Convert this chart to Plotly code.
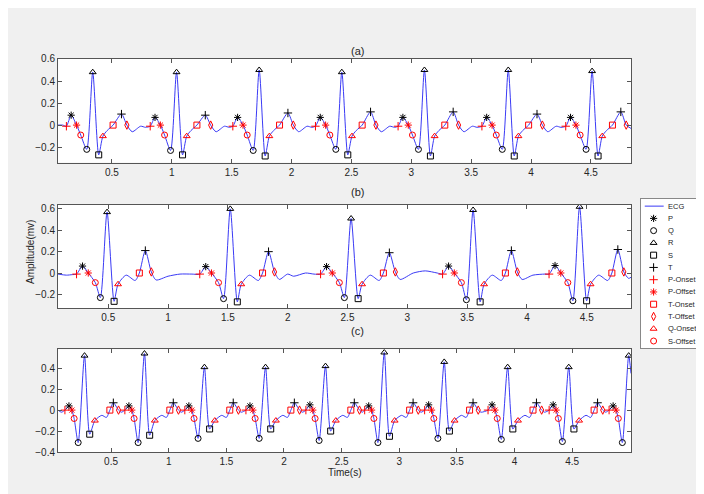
import plotly.graph_objects as go

# ---- panel (a) ----
a_pon_t = [0.12, 0.82, 1.51, 2.20, 2.89, 3.59, 4.29]
a_pon_y = [-0.01] * 7
a_p_t = [0.16, 0.86, 1.55, 2.24, 2.93, 3.63, 4.33]
a_p_y = [0.09, 0.07, 0.07, 0.07, 0.07, 0.07, 0.07]
a_poff_t = [0.205, 0.905, 1.595, 2.285, 2.975, 3.675, 4.375]
a_poff_y = [0.0] * 7
a_soff_t = [0.24, 0.94, 1.63, 2.32, 3.01, 3.71, 4.41]
a_soff_y = [-0.09] * 7
a_q_t = [0.29, 0.99, 1.68, 2.37, 3.06, 3.76, 4.46]
a_q_y = [-0.22, -0.23, -0.23, -0.22, -0.22, -0.22, -0.22]
a_r_t = [0.34, 1.04, 1.73, 2.42, 3.11, 3.81, 4.51]
a_r_y = [0.48, 0.48, 0.50, 0.48, 0.50, 0.50, 0.49]
a_s_t = [0.39, 1.09, 1.78, 2.47, 3.16, 3.86, 4.56]
a_s_y = [-0.27, -0.27, -0.28, -0.27, -0.28, -0.28, -0.28]
a_qon_t = [0.425, 1.125, 1.815, 2.505, 3.195, 3.895, 4.595]
a_qon_y = [-0.10] * 7
a_ton_t = [0.51, 1.21, 1.90, 2.59, 3.28, 3.98, 4.68]
a_ton_y = [0.0] * 7
a_t_t = [0.58, 1.28, 1.97, 2.66, 3.35, 4.05, 4.75]
a_t_y = [0.10, 0.09, 0.11, 0.12, 0.12, 0.10, 0.12]
a_toff_t = [0.625, 1.325, 2.015, 2.705, 3.395, 4.095, 4.795]
a_toff_y = [0.0] * 7
a_wave_t = [0.05, 0.09, 0.46, 0.67, 0.74, 0.78, 1.16, 1.37, 1.44, 1.48, 1.85, 2.06, 2.13, 2.17,
            2.54, 2.75, 2.82, 2.86, 3.23, 3.44, 3.51, 3.55, 3.93, 4.14, 4.21, 4.25, 4.63, 4.835]
a_wave_y = [0.0, 0.0, -0.05, -0.06, -0.01, -0.02, -0.05, -0.06, -0.01, -0.02, -0.05, -0.06, -0.01, -0.02,
            -0.05, -0.06, -0.01, -0.02, -0.05, -0.06, -0.01, -0.02, -0.05, -0.06, -0.01, -0.02, -0.05, -0.03]

# ---- panel (b) ----
b_pon_t = [0.235, 1.265, 2.275, 3.295, 4.185]
b_pon_y = [-0.01] * 5
b_p_t = [0.285, 1.315, 2.325, 3.345, 4.235]
b_p_y = [0.065, 0.06, 0.06, 0.065, 0.07]
b_poff_t = [0.333, 1.363, 2.373, 3.393, 4.283]
b_poff_y = [0.0] * 5
b_soff_t = [0.392, 1.422, 2.432, 3.452, 4.342]
b_soff_y = [-0.09] * 5
b_q_t = [0.434, 1.464, 2.474, 3.494, 4.384]
b_q_y = [-0.23, -0.24, -0.23, -0.25, -0.26]
b_r_t = [0.49, 1.52, 2.53, 3.55, 4.44]
b_r_y = [0.57, 0.60, 0.51, 0.59, 0.62]
b_s_t = [0.549, 1.579, 2.589, 3.609, 4.499]
b_s_y = [-0.265, -0.27, -0.24, -0.27, -0.26]
b_qon_t = [0.582, 1.612, 2.622, 3.642, 4.532]
b_qon_y = [-0.105] * 5
b_ton_t = [0.76, 1.79, 2.80, 3.82, 4.71]
b_ton_y = [0.0] * 5
b_t_t = [0.81, 1.84, 2.85, 3.87, 4.76]
b_t_y = [0.21, 0.20, 0.19, 0.21, 0.22]
b_toff_t = [0.86, 1.89, 2.90, 3.92, 4.81]
b_toff_y = [0.01] * 5
b_wave_t = [0.08, 0.15, 0.20, 0.65, 0.725, 0.90, 1.0, 1.1, 1.2, 1.68, 1.755, 1.93, 2.0, 2.05, 2.15, 2.22,
            2.69, 2.765, 2.94, 3.05, 3.15, 3.25, 3.71, 3.785, 3.96, 4.05, 4.15, 4.60, 4.675, 4.85, 4.87]
b_wave_y = [-0.01, -0.02, -0.015, -0.02, -0.07, -0.065, -0.03, -0.01, -0.01, -0.02, -0.07, -0.06, -0.01, -0.03, 0.0, -0.01,
            -0.02, -0.07, -0.06, 0.0, 0.02, 0.0, -0.02, -0.07, -0.06, -0.02, -0.01, -0.02, -0.07, -0.05, -0.04]

# ---- panel (c) ----
c_pon_t = [0.10, 0.62, 1.14, 1.67, 2.19, 2.70, 3.22, 3.77, 4.30, 4.82]
c_pon_y = [0.0] * 10
c_p_t = [0.135, 0.655, 1.175, 1.705, 2.225, 2.735, 3.255, 3.805, 4.335, 4.855]
c_p_y = [0.04, 0.04, 0.04, 0.04, 0.05, 0.04, 0.05, 0.05, 0.05, 0.04]
c_poff_t = [0.16, 0.68, 1.20, 1.73, 2.25, 2.76, 3.28, 3.83, 4.36, 4.88]
c_poff_y = [0.0] * 10
c_soff_t = [0.18, 0.70, 1.22, 1.75, 2.27, 2.78, 3.30, 3.85, 4.38, 4.90]
c_soff_y = [-0.08] * 10
c_q_t = [0.215, 0.735, 1.255, 1.785, 2.305, 2.815, 3.335, 3.885, 4.415, 4.935]
c_q_y = [-0.31, -0.31, -0.27, -0.27, -0.29, -0.31, -0.27, -0.28, -0.30, -0.31]
c_r_t = [0.27, 0.79, 1.31, 1.84, 2.36, 2.87, 3.39, 3.94, 4.47, 4.99]
c_r_y = [0.52, 0.54, 0.41, 0.41, 0.42, 0.55, 0.46, 0.41, 0.41, 0.52]
c_s_t = [0.315, 0.835, 1.355, 1.885, 2.405, 2.915, 3.435, 3.985, 4.515]
c_s_y = [-0.23, -0.24, -0.18, -0.18, -0.20, -0.25, -0.20, -0.18, -0.18]
c_qon_t = [0.36, 0.88, 1.40, 1.93, 2.45, 2.96, 3.48, 4.03, 4.56]
c_qon_y = [-0.10] * 9
c_ton_t = [0.49, 1.01, 1.53, 2.06, 2.58, 3.09, 3.61, 4.16, 4.69]
c_ton_y = [0.0] * 9
c_t_t = [0.52, 1.04, 1.56, 2.09, 2.61, 3.12, 3.64, 4.19, 4.72]
c_t_y = [0.07] * 9
c_toff_t = [0.565, 1.085, 1.605, 2.135, 2.655, 3.165, 3.685, 4.235, 4.765]
c_toff_y = [0.0] * 9
c_wave_t = [0.04, 0.07, 0.42, 0.46, 0.59, 0.94, 0.98, 1.11, 1.46, 1.50, 1.63, 1.99, 2.03, 2.16,
            2.51, 2.55, 2.68, 3.02, 3.06, 3.19, 3.54, 3.58, 3.71, 4.09, 4.13, 4.26, 4.62, 4.66, 4.79, 5.01]
c_wave_y = [0.0, -0.02] + [-0.05, -0.07, -0.02] * 9 + [0.35]

panels = {
    "a": dict(pon=(a_pon_t, a_pon_y), p=(a_p_t, a_p_y), poff=(a_poff_t, a_poff_y), soff=(a_soff_t, a_soff_y),
              q=(a_q_t, a_q_y), r=(a_r_t, a_r_y), s=(a_s_t, a_s_y), qon=(a_qon_t, a_qon_y),
              ton=(a_ton_t, a_ton_y), t=(a_t_t, a_t_y), toff=(a_toff_t, a_toff_y), wave=(a_wave_t, a_wave_y)),
    "b": dict(pon=(b_pon_t, b_pon_y), p=(b_p_t, b_p_y), poff=(b_poff_t, b_poff_y), soff=(b_soff_t, b_soff_y),
              q=(b_q_t, b_q_y), r=(b_r_t, b_r_y), s=(b_s_t, b_s_y), qon=(b_qon_t, b_qon_y),
              ton=(b_ton_t, b_ton_y), t=(b_t_t, b_t_y), toff=(b_toff_t, b_toff_y), wave=(b_wave_t, b_wave_y)),
    "c": dict(pon=(c_pon_t, c_pon_y), p=(c_p_t, c_p_y), poff=(c_poff_t, c_poff_y), soff=(c_soff_t, c_soff_y),
              q=(c_q_t, c_q_y), r=(c_r_t, c_r_y), s=(c_s_t, c_s_y), qon=(c_qon_t, c_qon_y),
              ton=(c_ton_t, c_ton_y), t=(c_t_t, c_t_y), toff=(c_toff_t, c_toff_y), wave=(c_wave_t, c_wave_y)),
}

# legend order, name, symbol, colour
markers = [
    ("p", "P", "asterisk-open", "black"),
    ("q", "Q", "circle-open", "black"),
    ("r", "R", "triangle-up-open", "black"),
    ("s", "S", "square-open", "black"),
    ("t", "T", "cross-thin-open", "black"),
    ("pon", "P-Onset", "cross-thin-open", "red"),
    ("poff", "P-Offset", "asterisk-open", "red"),
    ("ton", "T-Onset", "square-open", "red"),
    ("toff", "T-Offset", "diamond-tall-open", "red"),
    ("qon", "Q-Onset", "triangle-up-open", "red"),
    ("soff", "S-Offset", "circle-open", "red"),
]
ecg_color = "#3a3af5"

fig = go.Figure()
axes = {"a": ("x", "y"), "b": ("x2", "y2"), "c": ("x3", "y3")}

for key, d in panels.items():
    xa, ya = axes[key]
    pts = []
    for k, (ts, ys) in d.items():
        pts += list(zip(ts, ys))
    pts.sort()
    fig.add_trace(go.Scatter(x=[p[0] for p in pts], y=[p[1] for p in pts], mode="lines",
                             line=dict(color=ecg_color, width=1, shape="spline", smoothing=0.7),
                             name="ECG", showlegend=False, xaxis=xa, yaxis=ya))
    for k, name, sym, col in markers:
        ts, ys = d[k]
        fig.add_trace(go.Scatter(x=ts, y=ys, mode="markers", name=name, showlegend=False,
                                 xaxis=xa, yaxis=ya,
                                 marker=dict(symbol=sym, size=6, color=col, line=dict(color=col, width=1))))

# hand-built legend box on its own axis (rows counted from top, 0..11)
nrows = len(markers) + 1
fig.add_trace(go.Scatter(x=[0.06, 0.36], y=[0, 0], mode="lines", line=dict(color=ecg_color, width=1),
                         showlegend=False, hoverinfo="skip", xaxis="x4", yaxis="y4"))
for i, (k, name, sym, col) in enumerate(markers, start=1):
    fig.add_trace(go.Scatter(x=[0.20], y=[i], mode="markers", showlegend=False, hoverinfo="skip",
                             marker=dict(symbol=sym, size=6, color=col, line=dict(color=col, width=1)),
                             xaxis="x4", yaxis="y4"))
for i, name in enumerate(["ECG"] + [m[1] for m in markers]):
    fig.add_annotation(text=name, x=0.40, y=i, xref="x4", yref="y4", xanchor="left", showarrow=False,
                       font=dict(size=7.5, color="#262626"))

ax_common = dict(showgrid=False, zeroline=False, showline=True, linecolor="#555555", linewidth=1,
                 mirror="ticks", ticks="inside", ticklen=4, tickcolor="#555555",
                 tickfont=dict(size=10, color="#262626"))
xticks = [0.5, 1, 1.5, 2, 2.5, 3, 3.5, 4, 4.5]
xlabels = ["0.5", "1", "1.5", "2", "2.5", "3", "3.5", "4", "4.5"]
xd = [50 / 704, 623 / 704]

fig.update_layout(
    width=704, height=494, margin=dict(l=0, r=0, t=0, b=0),
    paper_bgcolor="#f0f0f0", plot_bgcolor="white",
    font=dict(family="Liberation Sans, Arial", size=10, color="#262626"),
    xaxis=dict(domain=xd, range=[0.05, 4.835], tickvals=xticks, ticktext=xlabels, anchor="y", **ax_common),
    yaxis=dict(domain=[1 - 153 / 494, 1 - 47 / 494], range=[-0.34, 0.6], tickvals=[-0.2, 0, 0.2, 0.4, 0.6],
               anchor="x", **ax_common),
    xaxis2=dict(domain=xd, range=[0.08, 4.87], tickvals=xticks, ticktext=xlabels, anchor="y2", **ax_common),
    yaxis2=dict(domain=[1 - 302 / 494, 1 - 196 / 494], range=[-0.33, 0.64], tickvals=[-0.2, 0, 0.2, 0.4, 0.6],
                anchor="x2", **ax_common),
    xaxis3=dict(domain=xd, range=[0.04, 5.01], tickvals=xticks, ticktext=xlabels, anchor="y3", **ax_common),
    yaxis3=dict(domain=[1 - 449 / 494, 1 - 344 / 494], range=[-0.4, 0.58],
                tickvals=[-0.4, -0.2, 0, 0.2, 0.4], anchor="x3", **ax_common),
    xaxis4=dict(domain=[633 / 704, 696 / 704], range=[0, 1], anchor="y4", showline=True, mirror=True,
                linecolor="#888888", showticklabels=False, ticks="", showgrid=False, zeroline=False,
                fixedrange=True),
    yaxis4=dict(domain=[1 - 343 / 494, 1 - 190 / 494], range=[nrows - 0.4, -0.6], anchor="x4", showline=True,
                mirror=True, linecolor="#888888", showticklabels=False, ticks="", showgrid=False,
                zeroline=False, fixedrange=True),
    showlegend=False,
)

fig.add_annotation(text="(a)", x=349 / 704, y=1 - 31 / 494, xref="paper", yref="paper", showarrow=False,
                   font=dict(size=11))
fig.add_annotation(text="(b)", x=349 / 704, y=1 - 183 / 494, xref="paper", yref="paper", showarrow=False,
                   font=dict(size=11))
fig.add_annotation(text="(c)", x=349 / 704, y=1 - 333 / 494, xref="paper", yref="paper", showarrow=False,
                   font=dict(size=11))
fig.add_annotation(text="Amplitude(mv)", x=15 / 704, y=1 - 245 / 494, xref="paper", yref="paper",
                   showarrow=False, textangle=-90, font=dict(size=10))
fig.add_annotation(text="Time(s)", x=337 / 704, y=1 - 478 / 494, xref="paper", yref="paper", showarrow=False,
                   font=dict(size=10))

fig.write_html("out.html")
